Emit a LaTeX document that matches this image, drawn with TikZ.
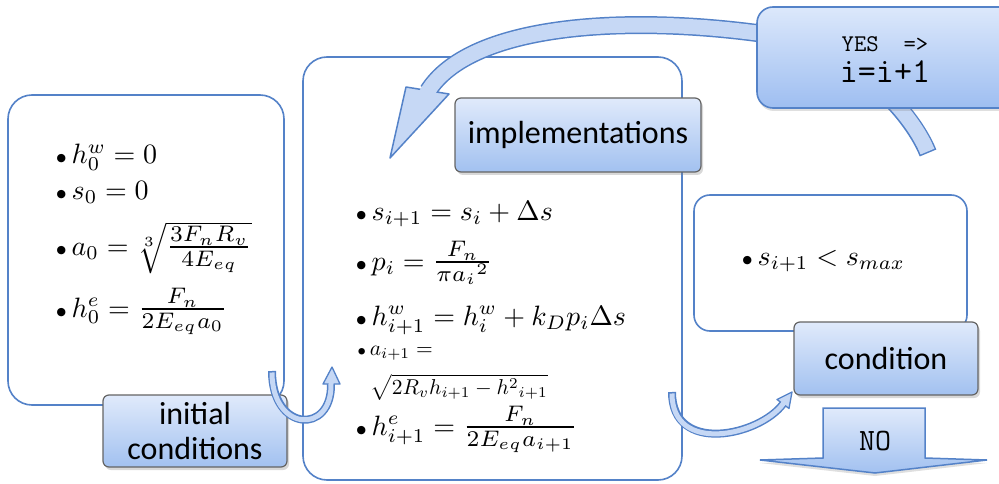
\documentclass[tikz,border=0pt]{standalone}
\usepackage{amsmath}
\usepackage{fontspec}
\newfontfamily\carl{Carlito}
\usetikzlibrary{shadows}
\definecolor{bblue}{RGB}{84,130,200}
\definecolor{labtop}{RGB}{224,234,251}
\definecolor{labbot}{RGB}{162,193,240}
\definecolor{labedge}{RGB}{100,100,100}
\definecolor{afill}{RGB}{198,216,245}
\definecolor{yestop}{RGB}{220,232,251}
\definecolor{yesbot}{RGB}{158,190,241}
\newcommand\bfrac[2]{\scalebox{1.15}{$\frac{#1}{#2}$}}
\tikzset{
  whitebox/.style={draw=bblue, line width=1.6pt, fill=white, rounded corners=24pt, inner sep=0pt},
  labelbox/.style={draw=labedge, line width=1.2pt, rounded corners=6pt, top color=labtop, bottom color=labbot,
    font=\carl\fontsize{32}{35}\selectfont, align=center, inner sep=0pt,
    drop shadow={shadow xshift=2pt, shadow yshift=-3pt, opacity=0.3}},
  yesbox/.style={draw=bblue, line width=1.6pt, rounded corners=16pt, top color=yestop, bottom color=yesbot,
    inner sep=0pt, drop shadow={shadow xshift=1pt, shadow yshift=-3pt, opacity=0.25}},
  mrow/.style={anchor=base west, inner sep=0pt, font=\normalsize, scale=2.8},
  srow/.style={anchor=north west, inner sep=0pt, font=\normalsize, scale=2.15, align=left},
  bandout/.style={draw=bblue},
  bandin/.style={draw=afill, shorten <=1.5pt},
  headtip/.style={draw=bblue, fill=afill, line width=1.5pt, line join=round},
  noarrow/.style={draw=bblue, line width=1.5pt, top color=labtop, bottom color=labbot,
    drop shadow={shadow xshift=0pt, shadow yshift=-3pt, opacity=0.25}},
}
\begin{document}
\begin{tikzpicture}[x=1pt,y=-1pt]
\useasboundingbox (0,0) rectangle (999,484);
\fill[white] (0,0) rectangle (999,484);
% white boxes
\node[whitebox, minimum width=276pt, minimum height=310pt] (initbox) at (146,250) {};
\node[whitebox, minimum width=379pt, minimum height=423pt] (implbox) at (492.5,268.5) {};
\node[whitebox, minimum width=273pt, minimum height=136pt, rounded corners=16pt] (condbox) at (830.5,263) {};
% big curved arrow (YES -> implementations)
\coordinate (bA) at (928,153);
\coordinate (bB) at (757,33);
\coordinate (bC) at (428,91);
\draw[bandout, line width=18pt] (bA) .. controls (915,120) and (860,45) .. (bB) .. controls (620,15) and (470,25) .. (bC);
\draw[headtip] (406,87) -- (390,158) -- (449,94) -- cycle;
\draw[bandin, line width=15pt] (bA) .. controls (915,120) and (860,45) .. (bB) .. controls (620,15) and (470,25) .. (bC) -- (424,98);
% label boxes
\node[labelbox, minimum width=184pt, minimum height=72pt] (initlab) at (195,431) {initial\\conditions};
\node[labelbox, minimum width=246pt, minimum height=74pt] (impllab) at (578,135) {implementations};
\node[labelbox, minimum width=184pt, minimum height=73pt] (condlab) at (886,358.5) {condition};
\node[yesbox, minimum width=258pt, minimum height=101pt] (yes) at (886,57.5) {};
\node[anchor=base, inner sep=0pt, font=\ttfamily\fontsize{24}{26}\selectfont] (yes1) at (885,52) {YES\ \ =>};
\node[anchor=base, inner sep=0pt, font=\ttfamily\fontsize{35}{36}\selectfont] (yes2) at (885,83) {i=i+1};
% initial conditions text
\node[mrow] (r1) at (55,164) {${\scriptstyle\bullet}\,h_0^w = 0$};
\node[mrow] (r2) at (55,199) {${\scriptstyle\bullet}\,s_0 = 0$};
\node[mrow] (r3) at (55,255) {${\scriptstyle\bullet}\,a_0 = \sqrt[3]{\bfrac{3F_nR_v}{4E_{eq}}}$};
\node[mrow] (r4) at (55,317) {${\scriptstyle\bullet}\,h_0^e = \bfrac{F_n}{2E_{eq}a_0}$};
% implementation text
\node[mrow] (m1) at (355,220) {${\scriptstyle\bullet}\,s_{i+1} = s_i + \Delta s$};
\node[mrow] (m2) at (355,270) {${\scriptstyle\bullet}\,p_i = \bfrac{F_n}{\pi {a_i}^2}$};
\node[mrow] (m3) at (355,325) {${\scriptstyle\bullet}\,h^w_{i+1} = h^w_i + k_D p_i \Delta s$};
\node[srow] (m4) at (357,346) {${\scriptstyle\bullet}\,a_{i+1} =$\\[6pt]\hspace*{6pt}$\sqrt{2R_v h_{i+1} - h^2{}_{i+1}}$};
\node[mrow] (m5) at (355,435) {${\scriptstyle\bullet}\,h^e_{i+1} = \bfrac{F_n}{2E_{eq}a_{i+1}}$};
% condition text
\node[mrow] (c1) at (741,265) {${\scriptstyle\bullet}\,s_{i+1} < s_{max}$};
% small arrow: initial conditions -> implementations
\coordinate (aA) at (272,371);
\coordinate (aB) at (331,384);
\draw[bandout, line width=8pt] (aA) .. controls (272,432) and (332,435) .. (aB);
\draw[headtip, line width=1.3pt] (323,384) -- (332,367) -- (340,384) -- cycle;
\draw[bandin, line width=5pt] (aA) .. controls (272,432) and (332,435) .. (aB) -- (331,378);
% small arrow: implementations -> condition
\coordinate (cA) at (672,392);
\coordinate (cB) at (783,404);
\draw[bandout, line width=8pt] (cA) .. controls (672,455) and (759,436) .. (cB);
\draw[headtip, line width=1.3pt] (777,399.5) -- (792,392) -- (789,408.5) -- cycle;
\draw[bandin, line width=5pt] (cA) .. controls (672,455) and (759,436) .. (cB) -- (786.6,399.2);
% NO arrow
\draw[noarrow] (823,408) -- (925,408) -- (925,458) -- (987,460) -- (875,473) -- (760,460) -- (823,458) -- cycle;
\node[anchor=base, inner sep=0pt, font=\ttfamily\fontsize{31}{32}\selectfont] (no) at (875,450) {NO};
\end{tikzpicture}
\end{document}
